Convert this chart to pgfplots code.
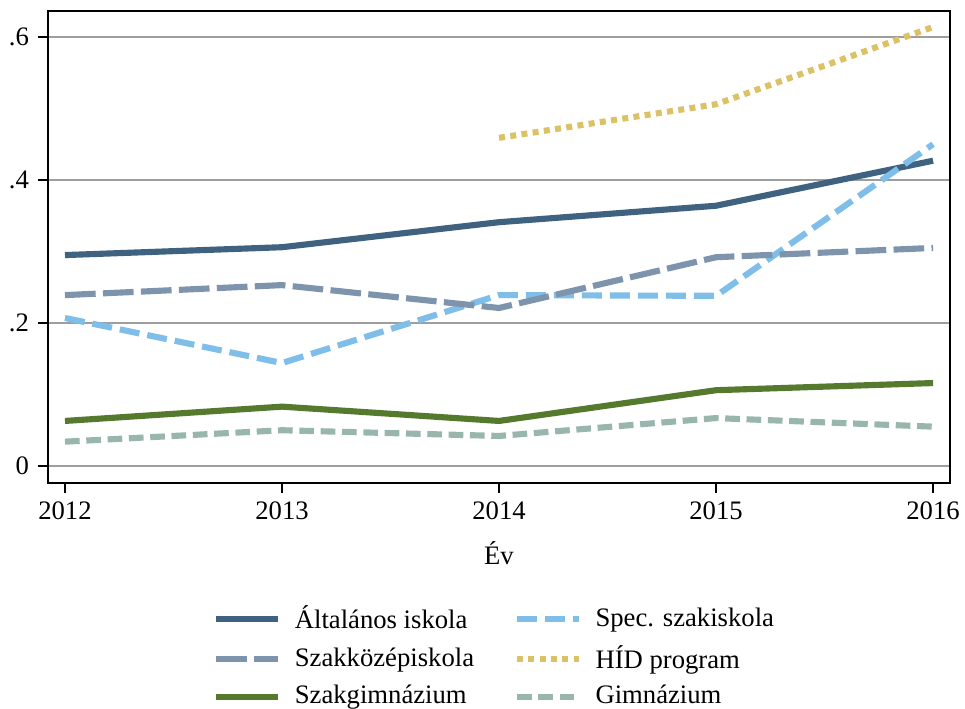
\documentclass[border=0pt]{standalone}
\usepackage{fontspec}
\setmainfont{Liberation Serif}
\usepackage{pgfplots}
\pgfplotsset{compat=1.18}
\definecolor{cAlt}{HTML}{3F6280}
\definecolor{cSzk}{HTML}{7E94AD}
\definecolor{cSpec}{HTML}{7EBEE8}
\definecolor{cHid}{HTML}{DCC266}
\definecolor{cSzg}{HTML}{557A2E}
\definecolor{cGim}{HTML}{98B5AE}

\begin{document}
\fontsize{20}{24}\selectfont
\begin{tikzpicture}
\begin{axis}[
    scale only axis,
    width=676.5pt,
    height=354pt,
    xmin=2011.9217, xmax=2016.078,
    ymin=-0.0238, ymax=0.6364,
    xtick={2012,2013,2014,2015,2016},
    xticklabels={2012,2013,2014,2015,2016},
    ytick={0,0.2,0.4,0.6},
    yticklabels={0,.2,.4,.6},
    /pgf/number format/assume math mode=true,
    tick pos=left,
    tick align=outside,
    major tick length=7.5pt,
    every tick/.style={black,line width=0.9pt},
    axis line style={black,line width=1.1pt},
    ymajorgrids,
    grid style={color=black!38,line width=1pt},
    tick label style={font=\fontsize{20}{24}\selectfont},
    xlabel={Év},
    xlabel style={font=\fontsize{20}{24}\selectfont,at={(axis description cs:0.5,-0.148)},anchor=center},
    legend columns=2,
    legend cell align=left,
    legend style={at={(0.4956,-0.2475)},anchor=north,draw=none,font=\fontsize{20}{24}\selectfont,
        /tikz/every odd column/.append style={column sep=8pt},
        /tikz/every even column/.append style={column sep=28pt},
        row sep=5.8pt},
    legend image code/.code={\draw[#1] (0pt,0pt) -- (46.5pt,0pt);},
    every axis plot/.append style={line width=4.6pt},
]
\addplot[cAlt, solid] coordinates {
    (2012,0.295)(2013,0.306)(2014,0.341)(2015,0.364)(2016,0.427)};
\addplot[cSpec, dash pattern=on 15pt off 6pt] coordinates {
    (2012,0.207)(2013,0.144)(2014,0.239)(2015,0.238)(2016,0.450)};
\addplot[cSzk, dash pattern=on 23pt off 5.5pt] coordinates {
    (2012,0.239)(2013,0.253)(2014,0.221)(2015,0.292)(2016,0.305)};
\addplot[cHid, dash pattern=on 4.5pt off 4pt] coordinates {
    (2014,0.459)(2015,0.506)(2016,0.614)};
\addplot[cSzg, solid] coordinates {
    (2012,0.063)(2013,0.083)(2014,0.063)(2015,0.106)(2016,0.116)};
\addplot[cGim, dash pattern=on 11pt off 5pt] coordinates {
    (2012,0.034)(2013,0.050)(2014,0.042)(2015,0.067)(2016,0.055)};
\legend{Általános iskola,Spec. szakiskola,Szakközépiskola,HÍD program,Szakgimnázium,Gimnázium}
\end{axis}
\pgfresetboundingbox
\path (0,0) ++(-36pt,-169.5pt) rectangle (676.5pt+11.25pt,354pt+8.25pt);
\end{tikzpicture}
\end{document}
